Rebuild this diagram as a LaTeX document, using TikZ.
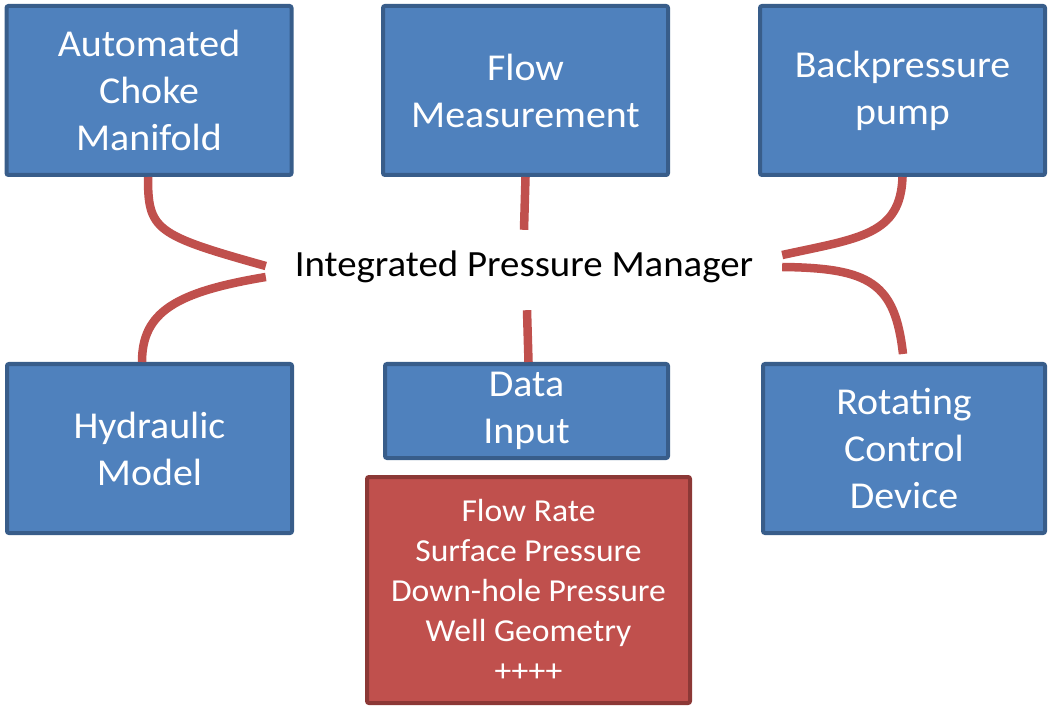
\documentclass[tikz,border=0pt]{standalone}
\usepackage{fontspec}
\setmainfont{Carlito}[FakeStretch=1.05]
\definecolor{boxfill}{HTML}{4F81BD}
\definecolor{boxline}{HTML}{385D8A}
\definecolor{redfill}{HTML}{C0504D}
\definecolor{redline}{HTML}{8C3836}
\tikzset{
  blk/.style={draw=boxline,fill=boxfill,line width=4pt,rounded corners=2pt,text=white,align=center,
    minimum width=285pt,minimum height=169pt,inner sep=0pt,font=\fontsize{38}{47}\selectfont},
  lnk/.style={draw=redfill,line width=8.5pt}
}
\begin{document}
\begin{tikzpicture}[x=1pt,y=-1pt]
\useasboundingbox (0,0) rectangle (1049,708);
\foreach \n/\x/\y/\t in {acm/149/90.5/{Automated\\Choke\\Manifold},flow/525.5/90.5/{Flow\\Measurement},
  bpp/902.5/90.5/{Backpressure\\pump},hyd/149.5/448.5/{Hydraulic\\Model}}
  \node[blk] (\n) at (\x,\y) {\t};
\node[blk,minimum width=282pt] (rcd) at (904,448.5) {Rotating\\Control\\Device};
\node[blk,minimum width=283pt,minimum height=94pt] (din) at (526.5,411) {Data\\Input};
\node[blk,draw=redline,fill=redfill,minimum width=323pt,minimum height=226pt,font=\fontsize{32}{40}\selectfont]
  (lst) at (528.5,590) {Flow Rate\\Surface Pressure\\Down-hole Pressure\\Well Geometry\\++++};
\node[anchor=base,font=\fontsize{37}{40}\selectfont,minimum width=516pt,text height=22pt,text depth=0pt,
  inner ysep=0pt,inner xsep=0pt] (ipm) at (524,277) {Integrated Pressure Manager};
% links into the manager
\draw[lnk] ([xshift=-1pt]acm.south) .. controls +(0,53) and +(-111,-31) .. (ipm.west);
\draw[lnk] ([xshift=-7.5pt]hyd.north) .. controls +(0,-50) and +(-90,15) .. ([yshift=-11pt]ipm.west);
\draw[lnk] (bpp.south) .. controls +(-2,58) and +(78,-17) .. ([yshift=11pt]ipm.east);
\draw[lnk] ([yshift=-1pt]ipm.east) .. controls +(88,1) and +(-8,-71) .. ([xshift=-1pt,yshift=8pt]rcd.north);
\draw[lnk] (flow.south) -- ([yshift=25pt]ipm.north);
\draw[lnk] ([xshift=3pt,yshift=-33pt]ipm.south) -- ([xshift=2pt]din.north);
\end{tikzpicture}
\end{document}
